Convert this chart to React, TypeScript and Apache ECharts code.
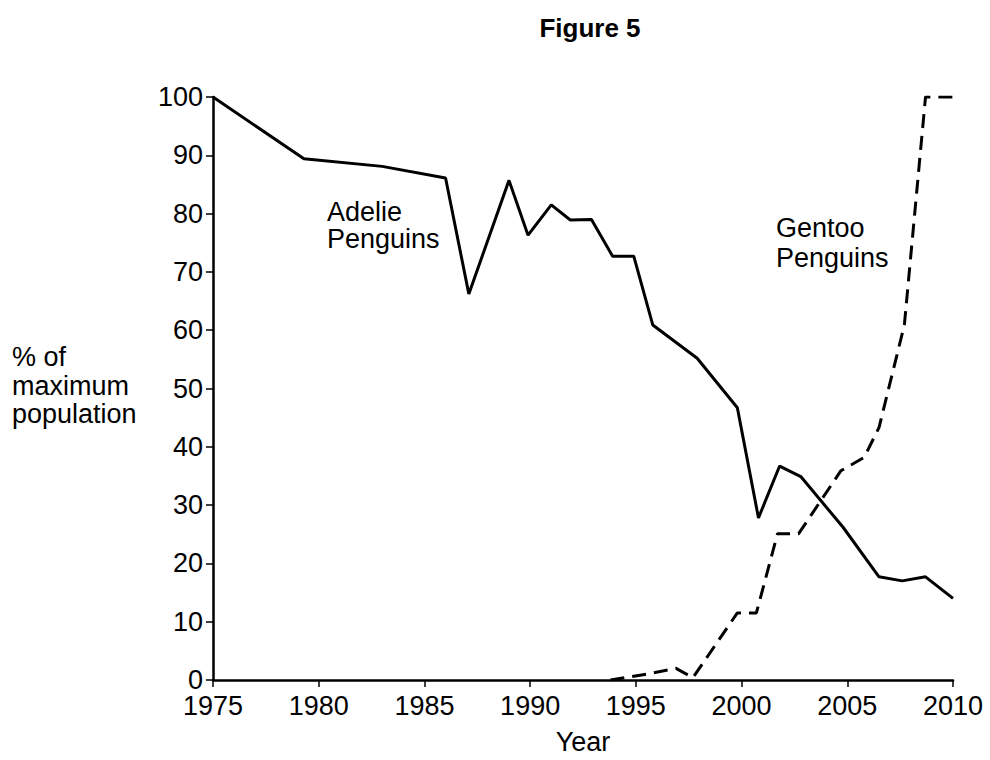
import React, { useEffect, useRef } from "react";
import * as echarts from "echarts";

const title = "Figure 5";
const xName = "Year";
const yNameLines = ["% of", "maximum", "population"];

const adelieYears = [1975, 1979.3, 1983, 1986, 1987.1, 1989, 1989.9, 1991, 1991.9, 1992.9, 1993.9, 1994.9, 1995.8, 1997.9, 1999.8, 2000.8, 2001.8, 2002.8, 2004.8, 2006.5, 2007.6, 2008.7, 2010];
const adelieValues = [100, 89.4, 88.1, 86.1, 66.2, 85.7, 76.3, 81.5, 78.9, 79.0, 72.7, 72.7, 60.9, 55.2, 46.7, 27.8, 36.7, 34.9, 26.2, 17.7, 17.0, 17.7, 14.0];

const gentooYears = [1993.8, 1995.5, 1996.9, 1997.7, 1999.8, 2000.7, 2001.7, 2002.7, 2004.7, 2005.8, 2006.5, 2007.7, 2008.7, 2010];
const gentooValues = [0, 1.0, 2.0, 0.4, 11.5, 11.5, 25.1, 25.1, 35.9, 38.2, 43.3, 60.9, 100, 100];

const FONT = "'Liberation Sans', Arial, sans-serif";
const FS = 27;

export default function App() {
  const ref = useRef<HTMLDivElement>(null);
  useEffect(() => {
    if (!ref.current) return;
    const chart = echarts.init(ref.current, null, { renderer: "svg" });
    const adelie = adelieYears.map((y, i) => [y, adelieValues[i]]);
    const gentoo = gentooYears.map((y, i) => [y, gentooValues[i]]);
    const txt = (x: number, y: number, text: string) => ({
      type: "text",
      x,
      y,
      style: { text, font: `${FS}px ${FONT}`, fill: "#000", verticalAlign: "middle", align: "left" },
    });
    chart.setOption({
      animation: false,
      backgroundColor: "#ffffff",
      textStyle: { fontFamily: FONT },
      grid: { left: 213, right: 37, top: 97, bottom: 75, containLabel: false },
      xAxis: {
        type: "value",
        min: 1975,
        max: 2010,
        interval: 5,
        name: xName,
        nameLocation: "middle",
        nameGap: 48,
        nameTextStyle: { fontFamily: FONT, fontSize: FS, color: "#000" },
        axisLine: { show: true, lineStyle: { color: "#000", width: 2.5 } },
        axisTick: { show: true, inside: false, length: 7, lineStyle: { color: "#000", width: 1.5 } },
        axisLabel: { fontFamily: FONT, fontSize: FS, color: "#000", margin: 12, formatter: (v: number) => String(v) },
        splitLine: { show: false },
      },
      yAxis: {
        type: "value",
        min: 0,
        max: 100,
        interval: 10,
        axisLine: { show: true, lineStyle: { color: "#000", width: 2.5 } },
        axisTick: { show: true, inside: false, length: 7, lineStyle: { color: "#000", width: 1.5 } },
        axisLabel: { fontFamily: FONT, fontSize: FS, color: "#000", margin: 10 },
        splitLine: { show: false },
      },
      graphic: [
        {
          type: "text",
          x: 590,
          y: 28,
          style: {
            text: title,
            font: `bold 26px ${FONT}`,
            fill: "#000",
            align: "center",
            verticalAlign: "middle",
          },
        },
        txt(12, 357, yNameLines[0]),
        txt(12, 386, yNameLines[1]),
        txt(12, 414, yNameLines[2]),
        txt(327, 212, "Adelie"),
        txt(327, 239, "Penguins"),
        txt(776, 228, "Gentoo"),
        txt(776, 258, "Penguins"),
      ],
      series: [
        {
          name: "Adelie Penguins",
          type: "line",
          data: adelie,
          showSymbol: false,
          symbol: "none",
          lineStyle: { color: "#000", width: 3, type: "solid" },
          z: 3,
        },
        {
          name: "Gentoo Penguins",
          type: "line",
          data: gentoo,
          showSymbol: false,
          symbol: "none",
          lineStyle: { color: "#000", width: 3, type: [14, 8] },
          z: 3,
        },
      ],
    });
    return () => chart.dispose();
  }, []);
  return (
    <div
      ref={ref}
      style={{ position: "absolute", left: 0, top: 0, width: 990, height: 760 }}
    />
  );
}
